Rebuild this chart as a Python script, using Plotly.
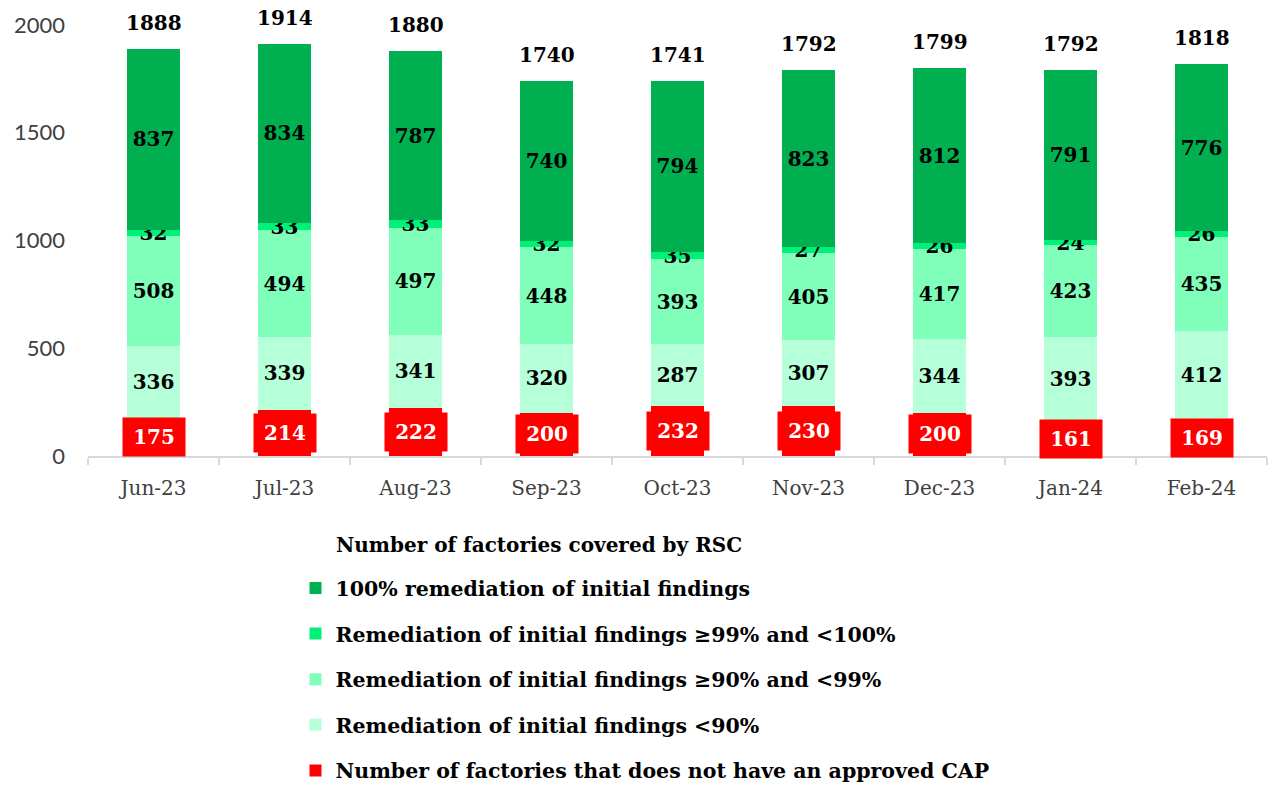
import plotly.graph_objects as go

months = ["Jun-23", "Jul-23", "Aug-23", "Sep-23", "Oct-23", "Nov-23", "Dec-23", "Jan-24", "Feb-24"]
no_cap = [175, 214, 222, 200, 232, 230, 200, 161, 169]
below90 = [336, 339, 341, 320, 287, 307, 344, 393, 412]
from90to99 = [508, 494, 497, 448, 393, 405, 417, 423, 435]
from99to100 = [32, 33, 33, 32, 35, 27, 26, 24, 26]
full100 = [837, 834, 787, 740, 794, 823, 812, 791, 776]
totals = [1888, 1914, 1880, 1740, 1741, 1792, 1799, 1792, 1818]

SERIF = "DejaVu Serif"
LBL = dict(family=SERIF, size=20, color="black", weight="bold")

fig = go.Figure()

series = [
    ("Number of factories that does not have an approved CAP", no_cap, "#FF0000", False, 5),
    ("Remediation of initial findings <90%", below90, "#B5FFD9", True, 4),
    ("Remediation of initial findings ≥90% and <99%", from90to99, "#7FFFBA", True, 3),
    ("Remediation of initial findings ≥99% and <100%", from99to100, "#00F078", True, 2),
    ("100% remediation of initial findings", full100, "#00B050", True, 1),
]

for i, (name, vals, col, lab, rank) in enumerate(series):
    fig.add_trace(go.Bar(
        x=months, y=vals, name=name, marker=dict(color=col, line=dict(width=0)),
        text=[str(v) for v in vals] if lab else None,
        textposition="inside" if lab else "none",
        insidetextanchor="middle", textangle=0,
        textfont=LBL,
        legendgroup=f"g{i}", legendrank=rank,
        hoverinfo="skip",
    ))

# red labels with background box
for m, v in zip(months, no_cap):
    fig.add_annotation(x=m, y=v / 2, text=str(v), showarrow=False,
                       font=dict(family=SERIF, size=20, color="white", weight="bold"),
                       bgcolor="#FF0000", width=58, height=34, borderpad=2)

# totals
for m, t in zip(months, totals):
    fig.add_annotation(x=m, y=t, text=str(t), showarrow=False, yanchor="bottom",
                       yshift=12, font=LBL)

# legend title
fig.add_annotation(xref="paper", yref="paper", x=(334 - 88) / 1179, y=(456 - 545) / 431,
                   xanchor="left", yanchor="middle", showarrow=False,
                   text="Number of factories covered by RSC",
                   font=dict(family=SERIF, size=20, color="black", weight="bold"))

fig.update_layout(
    width=1271, height=787,
    barmode="stack", bargap=0.6,
    plot_bgcolor="white", paper_bgcolor="white",
    margin=dict(l=88, r=4, t=25, b=331, autoexpand=False),
    uniformtext=dict(minsize=20, mode="show"),
    legend=dict(
        font=dict(family=SERIF, size=20.5, color="black", weight="bold"),
        orientation="v", traceorder="grouped", tracegroupgap=16,
        x=0.176, y=-0.260, xanchor="left", yanchor="top",
        bgcolor="rgba(0,0,0,0)",
    ),
    xaxis=dict(
        showline=True, linecolor="#D9D9D9", linewidth=2,
        ticks="outside", tickson="boundaries", tickcolor="#D9D9D9", ticklen=7, tickwidth=2,
        tickfont=dict(family=SERIF, size=20, color="#404040"),
        showgrid=False, tickangle=0, ticklabelstandoff=13,
    ),
    yaxis=dict(
        range=[0, 2000], tickvals=[0, 500, 1000, 1500, 2000],
        showgrid=False, zeroline=False, showline=False,
        tickfont=dict(family="Lato", size=22, color="#404040"),
        ticklabelstandoff=22,
    ),
)

fig.write_html("out.html", config={"displayModeBar": False},
               post_script="document.body.style.margin='0px';document.body.style.overflow='hidden';")
